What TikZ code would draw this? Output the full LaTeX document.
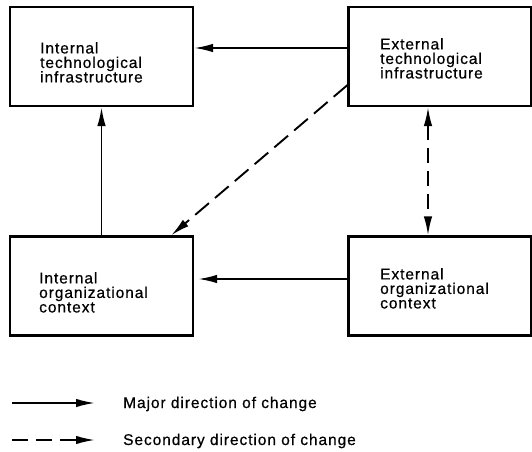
\documentclass[tikz,border=0pt]{standalone}
\usepackage{fontspec}
\setmainfont{Liberation Sans}[LetterSpace=6,FakeBold=0.6]
\usetikzlibrary{arrows.meta}
\tikzset{
  box/.style={draw, line width=2.2bp, minimum width=183bp, minimum height=99bp, inner sep=0pt},
  boxtext/.style={anchor=north west, align=left, inner sep=0pt, font=\fontsize{15.5bp}{14.5bp}\selectfont},
  legtext/.style={anchor=base west, inner sep=0pt, font=\fontsize{15.5bp}{14.5bp}\selectfont},
  tip/.style={Latex[length=19bp,width=8.5bp]},
  major/.style={line width=1.9bp, -{Latex[length=19bp,width=8.5bp]}},
  minor/.style={line width=1.9bp, dash pattern=on 18bp off 8bp, -{Latex[length=19bp,width=8.5bp]}},
  minorboth/.style={line width=1.9bp, dash pattern=on 15bp off 8bp, {Latex[length=19bp,width=8.5bp]}-{Latex[length=19bp,width=8.5bp]}},
}
\begin{document}
\begin{tikzpicture}[x=1bp,y=-1bp]
\useasboundingbox (0,0) rectangle (532,452);
\node[box] (tl) at (101.5,56.5) {};
\node[box] (tr) at (440,56.5) {};
\node[box] (bl) at (101.5,286) {};
\node[box] (br) at (440,286) {};
\node[boxtext] (tlt) at (40,42) {Internal\\technological\\infrastructure};
\node[boxtext] (trt) at (380,38) {External\\technological\\infrastructure};
\node[boxtext] (blt) at (39,272) {Internal\\organizational\\context};
\node[boxtext] (brt) at (380,268) {External\\organizational\\context};
% connectors
\draw[major] ([yshift=8.5bp]tr.west) -- ([yshift=8.5bp]tl.east);
\draw[major, shorten >=4bp] ([yshift=7bp]br.west) -- ([yshift=7bp]bl.east);
\draw[major] (bl.north) -- (tl.south);
\draw[minor] ([yshift=22bp]tr.south west) -- ([xshift=-23bp]bl.north east);
\draw[minorboth] ([xshift=-12bp]tr.south) -- ([xshift=-12bp]br.north);
% legend
\coordinate (la) at (12,403);
\coordinate (lb) at (95,403);
\coordinate (lc) at (12,440);
\coordinate (ld) at (95,440);
\draw[major] (la) -- (lb);
\draw[line width=1.9bp, dash pattern=on 16bp off 8bp on 16bp off 8bp on 60bp, -{Latex[length=19bp,width=8.5bp]}] (lc) -- (ld);
\node[legtext] (lt1) at (123,408) {Major direction of change};
\node[legtext] (lt2) at (123,445) {Secondary direction of change};
\end{tikzpicture}
\end{document}
